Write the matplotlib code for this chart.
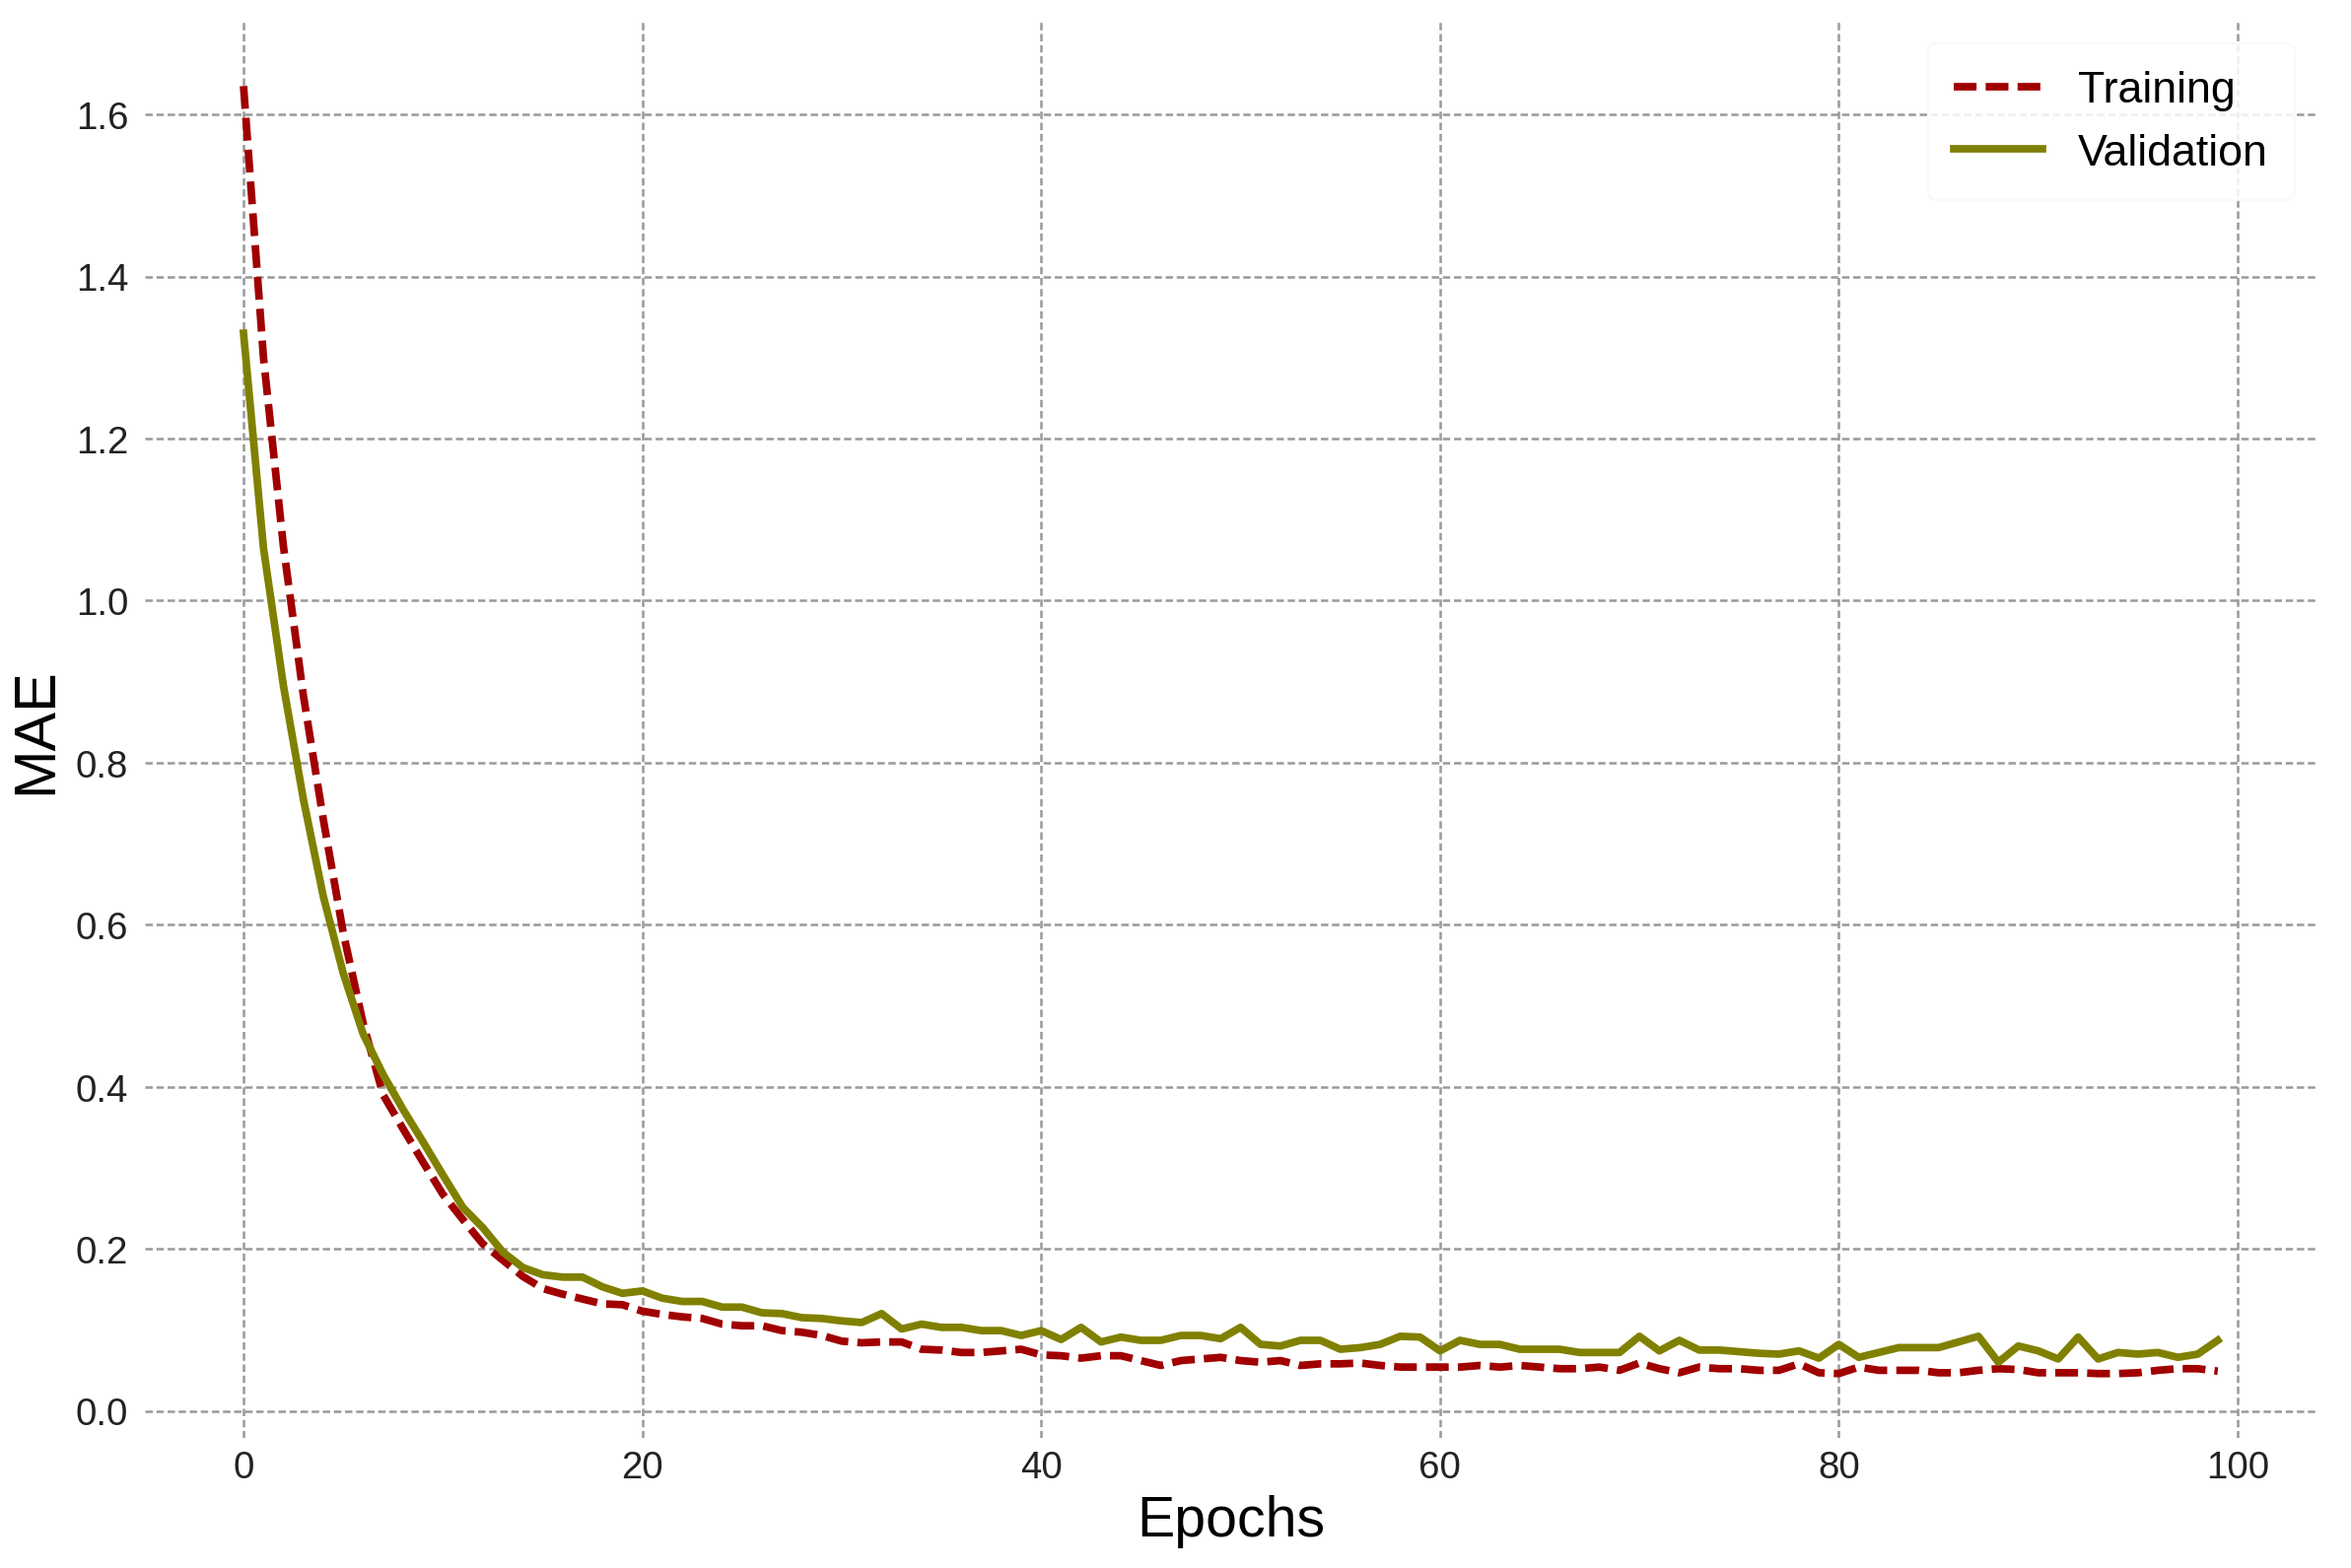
import matplotlib
matplotlib.use("Agg")
import matplotlib.pyplot as plt
import numpy as np

plt.rcParams['font.family'] = ['Liberation Sans', 'DejaVu Sans']

epochs = list(range(100))

training_mae = [
    1.635, 1.300, 1.067, 0.883, 0.730, 0.590, 0.478, 0.390, 0.348, 0.307,
    0.267, 0.236, 0.206, 0.186, 0.166, 0.151, 0.144, 0.138, 0.132, 0.131,
    0.123, 0.119, 0.116, 0.114, 0.107, 0.105, 0.105, 0.099, 0.097, 0.093,
    0.086, 0.084, 0.085, 0.085, 0.076, 0.075, 0.072, 0.072, 0.074, 0.076,
    0.069, 0.068, 0.065, 0.068, 0.068, 0.062, 0.056, 0.062, 0.064, 0.066,
    0.062, 0.060, 0.062, 0.056, 0.058, 0.058, 0.059, 0.056, 0.054, 0.054,
    0.054, 0.054, 0.056, 0.054, 0.056, 0.054, 0.052, 0.052, 0.054, 0.050,
    0.059, 0.052, 0.047, 0.054, 0.052, 0.052, 0.050, 0.050, 0.058, 0.047,
    0.046, 0.054, 0.050, 0.050, 0.050, 0.047, 0.047, 0.050, 0.052, 0.051,
    0.047, 0.047, 0.047, 0.046, 0.046, 0.047, 0.050, 0.052, 0.052, 0.049,
]

validation_mae = [
    1.330, 1.065, 0.895, 0.755, 0.635, 0.540, 0.465, 0.415, 0.372, 0.332,
    0.291, 0.251, 0.226, 0.196, 0.177, 0.168, 0.165, 0.165, 0.153, 0.145,
    0.148, 0.139, 0.135, 0.135, 0.128, 0.128, 0.121, 0.120, 0.115, 0.114,
    0.111, 0.109, 0.120, 0.101, 0.107, 0.103, 0.103, 0.099, 0.099, 0.093,
    0.099, 0.088, 0.103, 0.085, 0.091, 0.087, 0.087, 0.093, 0.093, 0.089,
    0.103, 0.082, 0.080, 0.087, 0.087, 0.076, 0.078, 0.082, 0.092, 0.091,
    0.074, 0.087, 0.082, 0.082, 0.076, 0.076, 0.076, 0.072, 0.072, 0.072,
    0.092, 0.074, 0.087, 0.075, 0.075, 0.073, 0.071, 0.070, 0.074, 0.065,
    0.082, 0.066, 0.072, 0.078, 0.078, 0.078, 0.085, 0.092, 0.060, 0.080,
    0.074, 0.064, 0.091, 0.064, 0.072, 0.070, 0.072, 0.066, 0.070, 0.087,
]

series_labels = ["Training", "Validation"]
x_label = "Epochs"
y_label = "MAE"

fig = plt.figure(figsize=(15.9, 10.613), dpi=150)
ax = fig.add_axes([0.0616, 0.0829, 0.9237, 0.9027])

ax.plot(epochs, training_mae, color='#a00000', linestyle='--', linewidth=3.7,
        dashes=(3.0, 1.2), label=series_labels[0], zorder=3)
ax.plot(epochs, validation_mae, color='#808000', linestyle='-', linewidth=3.7,
        label=series_labels[1], zorder=3)

ax.grid(True, color='#999999', linestyle='--', linewidth=1.2, dashes=(3, 1.5))
ax.set_axisbelow(True)
for s in ax.spines.values():
    s.set_visible(False)

ax.tick_params(axis='both', length=0, labelsize=18.5, colors='#222222')
ax.tick_params(axis='y', pad=8)
ax.tick_params(axis='x', pad=6)
ax.set_xticks([0, 20, 40, 60, 80, 100])
ax.set_yticks([0.0, 0.2, 0.4, 0.6, 0.8, 1.0, 1.2, 1.4, 1.6])
ax.set_yticklabels([f"{v:.1f}" for v in ax.get_yticks()])

ax.set_xlabel(x_label, fontsize=27.5, labelpad=4)
ax.set_ylabel(y_label, fontsize=28.5, labelpad=6)

leg = ax.legend(loc='upper right', fontsize=21.5, frameon=True,
                handlelength=2.0, borderpad=0.6, framealpha=0.85)
leg.get_frame().set_edgecolor('#f8f8f8')
leg.get_frame().set_linewidth(1.0)

fig.savefig("out.png", dpi=150)
